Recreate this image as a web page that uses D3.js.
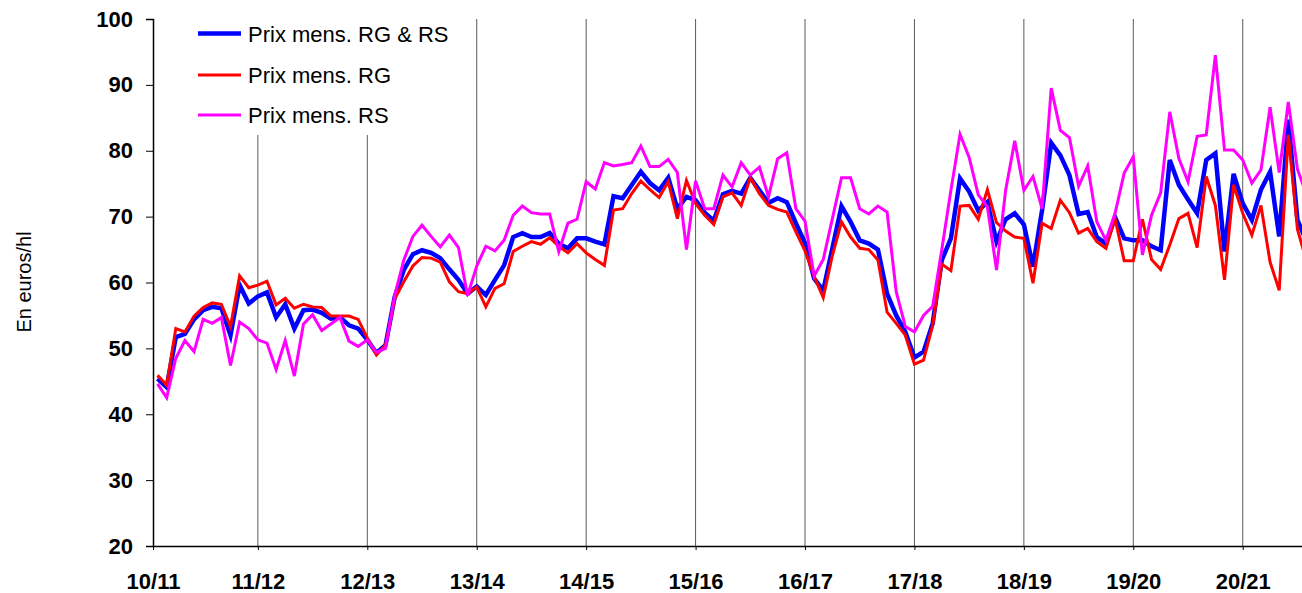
<!DOCTYPE html>
<html>
<head>
<meta charset="utf-8">
<script src="https://cdn.jsdelivr.net/npm/d3@7"></script>
<style>
    body { margin: 0; background: #fff; }
    svg { display: block; font-family: "Liberation Sans", Arial, sans-serif; }
</style>
</head>
<body>
<div id="chart"></div>
<script>
// campaign labels (one tick every 12 months)
const campaigns = ["10/11", "11/12", "12/13", "13/14", "14/15", "15/16", "16/17", "17/18", "18/19", "19/20", "20/21"];

// monthly prices, euros/hl (last month is cut by the right edge)
const prixRGRS = [45.4, 44.1, 51.7, 52.2, 54.4, 55.8, 56.3, 56.1, 52.0, 59.6, 56.8, 57.9,
    58.5, 54.7, 56.7, 53.0, 55.8, 55.9, 55.4, 54.5, 54.7, 53.5, 53.0, 51.3,
    49.3, 50.5, 57.8, 61.9, 64.3, 64.9, 64.5, 63.7, 62.0, 60.4, 58.3, 59.4,
    58.1, 60.4, 62.6, 66.9, 67.5, 66.9, 66.9, 67.5, 65.9, 65.2, 66.7, 66.7,
    66.2, 65.8, 73.1, 72.8, 74.8, 76.8, 75.1, 74.0, 75.9, 71.2, 73.0, 72.5,
    70.6, 69.4, 73.4, 73.9, 73.5, 75.9, 74.0, 72.1, 72.8, 72.2, 69.0, 66.0,
    60.6, 58.8, 65.2, 71.6, 69.2, 66.4, 65.9, 65.0, 58.3, 55.0, 52.5, 48.6,
    49.5, 53.8, 63.4, 66.7, 75.8, 73.8, 70.9, 72.2, 66.2, 69.6, 70.5, 68.8,
    62.4, 71.0, 81.2, 79.3, 76.3, 70.4, 70.7, 66.9, 65.9, 69.9, 66.7, 66.4,
    66.4, 65.5, 64.9, 78.6, 74.8, 72.6, 70.5, 78.6, 79.6, 64.7, 76.5, 72.0,
    69.5, 74.1, 76.8, 67.0, 84.7, 69.5, 66.2];

const prixRG = [45.9, 44.4, 53.0, 52.5, 54.9, 56.2, 56.9, 56.7, 53.3, 61.0, 59.2, 59.6,
    60.2, 56.6, 57.6, 56.1, 56.7, 56.3, 56.2, 54.9, 54.9, 54.9, 54.4, 51.6,
    49.0, 50.5, 57.5, 60.1, 62.5, 63.8, 63.7, 63.1, 60.1, 58.6, 58.3, 59.3,
    56.3, 59.1, 59.8, 64.7, 65.5, 66.2, 65.8, 66.8, 65.5, 64.5, 65.9, 64.5,
    63.5, 62.6, 71.0, 71.2, 73.5, 75.4, 74.1, 72.9, 75.3, 69.7, 75.5, 72.0,
    70.2, 68.8, 73.0, 73.6, 71.7, 75.9, 73.5, 71.7, 71.1, 70.7, 67.7, 64.8,
    60.9, 57.7, 64.1, 69.2, 66.9, 65.2, 65.0, 63.4, 55.5, 53.8, 52.0, 47.6,
    48.2, 53.5, 62.8, 61.8, 71.6, 71.7, 69.6, 74.1, 69.1, 67.8, 66.9, 66.7,
    59.9, 69.0, 68.2, 72.5, 70.6, 67.5, 68.2, 66.2, 65.2, 69.7, 63.3, 63.3,
    69.6, 63.5, 62.0, 65.7, 69.7, 70.5, 65.3, 76.1, 71.7, 60.4, 74.8, 70.5,
    67.2, 71.7, 63.1, 58.8, 82.4, 68.1, 63.2];

const prixRS = [44.6, 42.5, 48.5, 51.2, 49.5, 54.4, 53.8, 54.7, 47.4, 54.0, 53.0, 51.3,
    50.8, 46.8, 51.2, 45.8, 53.7, 55.1, 52.7, 53.7, 54.7, 51.1, 50.3, 51.3,
    49.4, 50.0, 58.0, 63.4, 67.0, 68.7, 67.0, 65.4, 67.2, 65.3, 58.0, 62.5,
    65.5, 64.8, 66.4, 70.2, 71.6, 70.6, 70.4, 70.4, 64.7, 69.0, 69.6, 75.3,
    74.2, 78.2, 77.7, 77.9, 78.2, 80.7, 77.6, 77.6, 78.7, 76.7, 65.0, 75.4,
    71.2, 71.2, 76.3, 74.5, 78.2, 76.3, 77.5, 73.0, 78.8, 79.7, 71.2, 69.3,
    61.0, 63.5, 69.7, 75.9, 75.9, 71.2, 70.4, 71.6, 70.7, 58.6, 53.3, 52.5,
    55.0, 56.4, 65.0, 74.0, 82.5, 79.0, 73.3, 71.5, 61.9, 74.0, 81.5, 74.0,
    76.1, 71.2, 89.5, 83.1, 82.0, 74.6, 77.7, 69.2, 66.4, 70.5, 76.6, 79.1,
    64.2, 70.2, 73.6, 85.9, 78.8, 75.3, 82.2, 82.4, 94.5, 80.1, 80.1, 78.6,
    75.1, 77.1, 86.6, 76.7, 87.4, 77.2, 73.3];

const seriesNames = ["Prix mens. RG & RS", "Prix mens. RG", "Prix mens. RS"];
const yTicks = [20, 30, 40, 50, 60, 70, 80, 90, 100];

var margin = { top: 19, right: 0, bottom: 47, left: 153 },
    width = 1302 - margin.left - margin.right,
    height = 593 - margin.top - margin.bottom;

var svg = d3.select("#chart")
    .append("svg")
    .attr("width", 1302)
    .attr("height", 593);

svg.append("defs").append("clipPath")
    .attr("id", "plot-clip")
    .append("rect")
    .attr("x", 0).attr("y", -10)
    .attr("width", width).attr("height", height + 10);

var g = svg.append("g")
    .attr("transform", "translate(" + margin.left + "," + margin.top + ")");

// 126 visible months, the 127th falls past the right edge
var shown = 126;
var x = d3.scaleLinear().domain([-0.5, shown - 0.5]).range([0, width]);
var y = d3.scaleLinear().domain([20, 100]).range([height, 0]);

// first label sits at the axis origin, the others every 12 months
var tickPos = campaigns.map(function (c, k) { return k === 0 ? -0.5 : 12 * k - 1; });

// vertical grid lines
g.selectAll("line.grid")
    .data(tickPos.slice(1))
    .enter()
    .append("line")
    .attr("class", "grid")
    .attr("x1", d => x(d)).attr("x2", d => x(d))
    .attr("y1", 0).attr("y2", height)
    .attr("stroke", "#5a5a5a")
    .attr("stroke-width", 1);

// legend (white box hides the grid behind it)
var legend = g.append("g");
legend.append("rect")
    .attr("x", 30).attr("y", 0)
    .attr("width", 290).attr("height", 116)
    .attr("fill", "#fff");

var colors = ["#0000ff", "#ff0000", "#ff00ff"];
var widths = [4.5, 3, 3];
var legendY = [14.5, 56, 96];

seriesNames.forEach(function (name, i) {
    legend.append("line")
        .attr("x1", 45).attr("x2", 88)
        .attr("y1", legendY[i]).attr("y2", legendY[i])
        .attr("stroke", colors[i])
        .attr("stroke-width", widths[i]);
    legend.append("text")
        .attr("x", 95)
        .attr("y", legendY[i] + 8)
        .style("font-size", "22px")
        .text(name);
});

// axes
var yAxis = g.append("g")
    .call(d3.axisLeft(y).tickValues(yTicks).tickSize(7).tickPadding(13));
yAxis.select(".domain").attr("stroke-width", 1.5);
yAxis.selectAll("text")
    .style("font-size", "22px")
    .style("font-weight", "bold")
    .attr("fill", "#000");

var xAxis = g.append("g")
    .attr("transform", "translate(0," + height + ")")
    .call(d3.axisBottom(x).tickValues(tickPos).tickSize(4).tickSizeOuter(0)
        .tickFormat(function (d, i) { return campaigns[i]; }));
xAxis.select(".domain").attr("stroke-width", 1.5);
xAxis.selectAll("text")
    .attr("y", 43)
    .attr("dy", 0)
    .style("font-size", "22px")
    .style("font-weight", "bold")
    .attr("fill", "#000");

// y title
svg.append("text")
    .attr("transform", "translate(31,282) rotate(-90)")
    .attr("text-anchor", "middle")
    .style("font-size", "20px")
    .text("En euros/hl");

// series lines
var line = d3.line()
    .x(function (d, i) { return x(i); })
    .y(function (d) { return y(d); });

var lines = g.append("g").attr("clip-path", "url(#plot-clip)");

[prixRGRS, prixRG, prixRS].forEach(function (values, i) {
    lines.append("path")
        .datum(values)
        .attr("fill", "none")
        .attr("stroke", colors[i])
        .attr("stroke-width", widths[i])
        .attr("stroke-linejoin", "miter")
        .attr("d", line);
});
</script>
</body>
</html>
